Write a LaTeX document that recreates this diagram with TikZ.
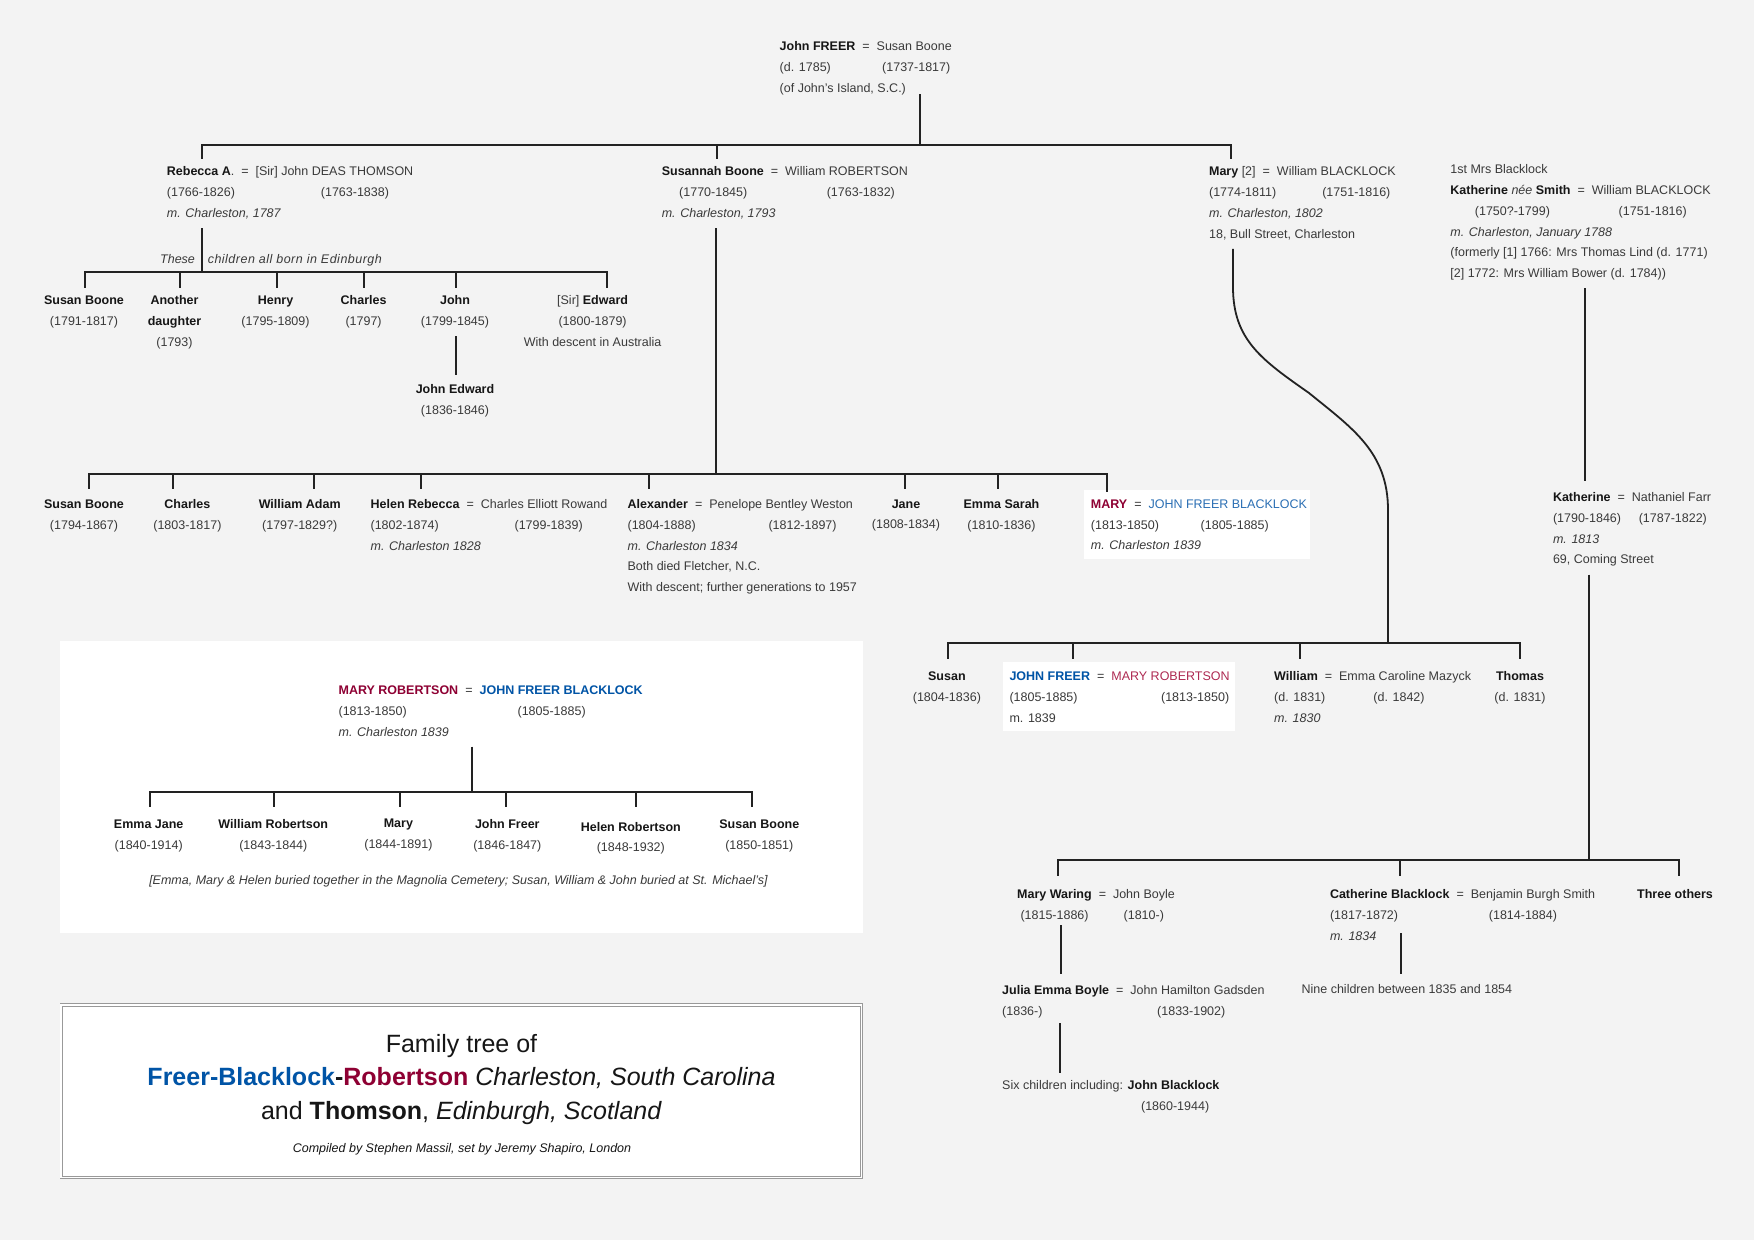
\documentclass[tikz,border=0pt]{standalone}
\usepackage{fontspec}
\setmainfont{Liberation Sans}
\definecolor{pagegray}{HTML}{F3F3F3}
\definecolor{inkgray}{HTML}{3A3A3A}
\definecolor{inkdark}{HTML}{161616}
\definecolor{linedark}{HTML}{222222}
\definecolor{framegray}{HTML}{999999}
\definecolor{freerblue}{HTML}{0054A6}
\definecolor{maryred}{HTML}{8E0033}
\definecolor{lightblue}{HTML}{2B6FB4}
\definecolor{lightred}{HTML}{AE2A52}
\newcommand{\nm}[1]{\textbf{\textcolor{inkdark}{#1}}}
\newcommand{\eq}{\hspace{7pt}=\hspace{7pt}}
\newcommand{\dates}[3]{\makebox[#1pt][l]{#2}#3}
\newcommand{\botstrut}{\rule[-3pt]{0pt}{3pt}}

\begin{document}
\begin{tikzpicture}[x=1pt,y=-1pt]
        % Styles
        \tikzset{
            person/.style={anchor=north west, align=left, inner xsep=0pt, inner ysep=7.5pt, text=inkgray,
                         font=\fontsize{12.5}{20.8}\selectfont,
                         execute at end node=\botstrut},
            child/.style={person, anchor=north, align=center},
            bus/.style={draw=linedark, line width=2.2pt, line cap=rect},
            drop/.style={draw=linedark, line width=1.8pt},
            paper/.style={fill=white},
            titlebox/.style={draw=framegray, fill=white, line width=0.9pt, double=white, double distance=1.5pt}
        }

        \useasboundingbox (0,0) rectangle (1754,1240);
        \fill[pagegray] (0,0) rectangle (1754,1240);

        % White panels
        \fill[paper] (59.5,641) rectangle (863,932.7);
        \fill[paper] (1084,490) rectangle (1310,558.7);
        \fill[paper] (1002.6,662.3) rectangle (1234.5,731);
        \draw[titlebox] (61.2,1005) rectangle (861.4,1177.7);

        % Freer generation
        \node[person] (john) at (779.5,34) {\nm{John FREER}\eq{}Susan Boone\\\dates{102.5}{(d. 1785)}{(1737-1817)}\\(of John's Island, S.C.)};
        \node[person] (rebecca) at (166.7,159) {\nm{Rebecca A}.\eq{}[Sir] John DEAS THOMSON\\\dates{154}{(1766-1826)}{(1763-1838)}\\\textit{m. Charleston, 1787}};
        \node[person] (susannah) at (661.6,159) {\nm{Susannah Boone}\eq{}William ROBERTSON\\\hspace*{17.4pt}\dates{147.6}{(1770-1845)}{(1763-1832)}\\\textit{m. Charleston, 1793}};
        \node[person] (maryBlack) at (1208.9,159) {\nm{Mary} [2]\eq{}William BLACKLOCK\\\dates{113.2}{(1774-1811)}{(1751-1816)}\\\textit{m. Charleston, 1802}\\18, Bull Street, Charleston};
        \node[person] (firstMrs) at (1450.2,157) {1st Mrs Blacklock\\\nm{Katherine} \textit{née} \nm{Smith}\eq{}William BLACKLOCK\\\hspace*{24.5pt}\dates{143.8}{(1750?-1799)}{(1751-1816)}\\\textit{m. Charleston, January 1788}\\(formerly [1] 1766: Mrs Thomas Lind (d. 1771)\\{}[2] 1772: Mrs William Bower (d. 1784))};

        % Connexions from John Freer
        \coordinate (freerL) at (202,145);
        \coordinate (freerM) at (717,145);
        \coordinate (freerR) at (1231,145);
        \coordinate (freerStem) at (920,145);
        \draw[bus] (freerL) -- (freerR);
        \draw[drop] ([yshift=9pt]john.south -| freerStem) -- (freerStem);
        \draw[drop] (freerL) -- (freerL |- rebecca.north);
        \draw[drop] (freerM) -- (freerM |- susannah.north);
        \draw[drop] (freerR) -- (freerR |- maryBlack.north);

        % Thomson children
        \node[person, font=\fontsize{12.5}{20.8}\selectfont\itshape] (theseL) at (160,246.7) {These};
        \node[person, font=\fontsize{12.5}{20.8}\selectfont\itshape\addfontfeature{LetterSpace=3.9}] (theseR) at (207.6,246.7) {children all born in Edinburgh};
        \node[child] (susanT) at (84,288) {\nm{Susan Boone}\\(1791-1817)};
        \node[child] (another) at (174.5,288) {\nm{Another}\\\nm{daughter}\\(1793)};
        \node[child] (henry) at (275.5,288) {\nm{Henry}\\(1795-1809)};
        \node[child] (charlesT) at (363.6,288) {\nm{Charles}\\(1797)};
        \node[child] (johnT) at (455,288) {\nm{John}\\(1799-1845)};
        \node[child] (edward) at (592.6,288) {[Sir] \nm{Edward}\\(1800-1879)\\With descent in Australia};
        \node[child] (johnEdward) at (455,377) {\nm{John Edward}\\(1836-1846)};

        \coordinate (thomL) at (85,272);
        \coordinate (thomB) at (180,272);
        \coordinate (thomC) at (277,272);
        \coordinate (thomD) at (364,272);
        \coordinate (thomE) at (456,272);
        \coordinate (thomR) at (607,272);
        \draw[bus] (thomL) -- (thomR);
        \draw[drop] (rebecca.south -| freerL) -- (freerL |- thomL);
        \draw[drop] (thomL) -- (thomL |- susanT.north);
        \draw[drop] (thomB) -- (thomB |- another.north);
        \draw[drop] (thomC) -- (thomC |- henry.north);
        \draw[drop] (thomD) -- (thomD |- charlesT.north);
        \draw[drop] (thomE) -- (thomE |- johnT.north);
        \draw[drop] (thomR) -- (thomR |- edward.north);
        \draw[drop] (johnT.south -| thomE) -- ([yshift=2pt]johnEdward.north -| thomE);

        % Robertson children
        \node[child] (susanR) at (84,491.8) {\nm{Susan Boone}\\(1794-1867)};
        \node[child] (charlesR) at (187.4,491.8) {\nm{Charles}\\(1803-1817)};
        \node[child] (adam) at (299.7,491.8) {\nm{William Adam}\\(1797-1829?)};
        \node[person] (helenR) at (370.4,491.8) {\nm{Helen Rebecca}\eq{}Charles Elliott Rowand\\\dates{144}{(1802-1874)}{(1799-1839)}\\\textit{m. Charleston 1828}};
        \node[person] (alexander) at (627.4,491.8) {\nm{Alexander}\eq{}Penelope Bentley Weston\\\dates{140.9}{(1804-1888)}{(1812-1897)}\\\textit{m. Charleston 1834}\\Both died Fletcher, N.C.\\With descent; further generations to 1957};
        \node[child] (jane) at (906,491.8) {\nm{Jane}\\(1808-1834)};
        \node[child] (emmaS) at (1001.5,491.8) {\nm{Emma Sarah}\\(1810-1836)};
        \node[person] (maryR) at (1090.7,491.8) {\textbf{\textcolor{maryred}{MARY}}\eq{}\textcolor{lightblue}{JOHN FREER BLACKLOCK}\\\dates{109.8}{(1813-1850)}{(1805-1885)}\\\textit{m. Charleston 1839}};

        \coordinate (robL) at (89,474);
        \coordinate (robB) at (173,474);
        \coordinate (robC) at (314,474);
        \coordinate (robD) at (421,474);
        \coordinate (robE) at (649,474);
        \coordinate (robF) at (905,474);
        \coordinate (robG) at (998,474);
        \coordinate (robR) at (1107,474);
        \coordinate (robStem) at (716,474);
        \draw[bus] (robL) -- (robR);
        \draw[drop] (susannah.south -| robStem) -- (robStem);
        \draw[drop] (robL) -- ([yshift=2.5pt]robL |- susanR.north);
        \draw[drop] (robB) -- ([yshift=2.5pt]robB |- charlesR.north);
        \draw[drop] (robC) -- ([yshift=2.5pt]robC |- adam.north);
        \draw[drop] (robD) -- ([yshift=2.5pt]robD |- helenR.north);
        \draw[drop] (robE) -- ([yshift=2.5pt]robE |- alexander.north);
        \draw[drop] (robF) -- ([yshift=2.5pt]robF |- jane.north);
        \draw[drop] (robG) -- ([yshift=2.5pt]robG |- emmaS.north);
        \draw[drop] (robR) -- (robR |- maryR.north);

        % Blacklock sons
        \node[child] (susanB) at (946.9,664) {\nm{Susan}\\(1804-1836)};
        \node[person] (johnF) at (1009.3,664) {\textbf{\textcolor{freerblue}{JOHN FREER}}\eq{}\textcolor{lightred}{MARY ROBERTSON}\\\dates{151.6}{(1805-1885)}{(1813-1850)}\\m. 1839};
        \node[person] (william) at (1274,664) {\nm{William}\eq{}Emma Caroline Mazyck\\\dates{99.2}{(d. 1831)}{(d. 1842)}\\\textit{m. 1830}};
        \node[child] (thomas) at (1520,664) {\nm{Thomas}\\(d. 1831)};

        \coordinate (sonsL) at (948,643);
        \coordinate (sonsB) at (1073,643);
        \coordinate (sonsC) at (1300,643);
        \coordinate (sonsR) at (1520,643);
        \coordinate (sonsStem) at (1388,643);
        \coordinate (bendA) at (1233,287);
        \coordinate (bendB) at (1309,393);
        \coordinate (bendC) at (1388,510);
        \draw[bus] (sonsL) -- (sonsR);
        \draw[drop] (maryBlack.south -| bendA) -- (bendA) .. controls (1233,340) and (1262,360) .. (bendB) .. controls (1352,428) and (1388,452) .. (bendC) -- (sonsStem);
        \draw[drop] (sonsL) -- ([yshift=5pt]sonsL |- susanB.north);
        \draw[drop] (sonsB) -- ([yshift=5pt]sonsB |- johnF.north);
        \draw[drop] (sonsC) -- ([yshift=5pt]sonsC |- william.north);
        \draw[drop] (sonsR) -- ([yshift=5pt]sonsR |- thomas.north);

        % Katherine Farr and descendants
        \node[person] (katherine) at (1552.8,484.7) {\nm{Katherine}\eq{}Nathaniel Farr\\\dates{85.8}{(1790-1846)}{(1787-1822)}\\\textit{m. 1813}\\69, Coming Street};
        \node[person] (maryW) at (1017,881.7) {\nm{Mary Waring}\eq{}John Boyle\\\hspace*{3.3pt}\dates{103.2}{(1815-1886)}{(1810-)}};
        \node[person] (catherine) at (1329.8,881.7) {\nm{Catherine Blacklock}\eq{}Benjamin Burgh Smith\\\dates{158.9}{(1817-1872)}{(1814-1884)}\\\textit{m. 1834}};
        \node[person] (three) at (1637,881.7) {\nm{Three others}};
        \node[person] (julia) at (1002,978) {\nm{Julia Emma Boyle}\eq{}John Hamilton Gadsden\\\dates{155}{(1836-)}{(1833-1902)}};
        \node[person] (nine) at (1301.4,977) {Nine children between 1835 and 1854};
        \node[person] (six) at (1002,1073) {Six children including: \nm{John Blacklock}\\\hspace*{138.9pt}(1860-1944)};

        \coordinate (farrL) at (1058,860);
        \coordinate (farrM) at (1400,860);
        \coordinate (farrR) at (1679,860);
        \coordinate (farrStem) at (1589,860);
        \coordinate (waringStem) at (1061,925);
        \coordinate (juliaStem) at (1060,1023.3);
        \coordinate (smithStem) at (1401,933);
        \coordinate (blackStem) at (1585,287.3);
        \draw[bus] (farrL) -- (farrR);
        \draw[drop] (firstMrs.south -| blackStem) -- ([yshift=4pt]katherine.north -| blackStem);
        \draw[drop] (katherine.south -| farrStem) -- (farrStem);
        \draw[drop] (farrL) -- ([yshift=6pt]farrL |- maryW.north);
        \draw[drop] (farrM) -- ([yshift=6pt]farrM |- catherine.north);
        \draw[drop] (farrR) -- ([yshift=6pt]farrR |- three.north);
        \draw[drop] (waringStem) -- ([yshift=4pt]waringStem |- julia.north);
        \draw[drop] (juliaStem) -- (juliaStem |- six.north);
        \draw[drop] (smithStem) -- ([yshift=3pt]smithStem |- nine.north);

        % Mary Robertson panel
        \node[person] (maryP) at (338.4,678) {\textbf{\textcolor{maryred}{MARY ROBERTSON}}\eq{}\textbf{\textcolor{freerblue}{JOHN FREER BLACKLOCK}}\\\dates{179}{(1813-1850)}{(1805-1885)}\\\textit{m. Charleston 1839}};
        \node[child] (emmaP) at (148.7,812) {\nm{Emma Jane}\\(1840-1914)};
        \node[child] (williamP) at (273.3,812) {\nm{William Robertson}\\(1843-1844)};
        \node[child] (maryC) at (398.4,811.3) {\nm{Mary}\\(1844-1891)};
        \node[child] (johnP) at (507.3,812) {\nm{John Freer}\\(1846-1847)};
        \node[child] (helenP) at (630.8,814.3) {\nm{Helen Robertson}\\(1848-1932)};
        \node[child] (susanP) at (759.3,812) {\nm{Susan Boone}\\(1850-1851)};
        \node[child, font=\fontsize{12.5}{20.8}\selectfont\itshape] (buried) at (458.5,868) {[Emma, Mary \& Helen buried together in the Magnolia Cemetery; Susan, William \& John buried at St. Michael's]};

        \coordinate (panelL) at (150,792);
        \coordinate (panelB) at (274,792);
        \coordinate (panelC) at (400,792);
        \coordinate (panelD) at (506,792);
        \coordinate (panelE) at (636,792);
        \coordinate (panelR) at (752,792);
        \coordinate (panelStem) at (472,792);
        \draw[bus] (panelL) -- (panelR);
        \draw[drop] (maryP.south -| panelStem) -- (panelStem);
        \draw[drop] (panelL) -- ([yshift=4.7pt]panelL |- emmaP.north);
        \draw[drop] (panelB) -- ([yshift=4.7pt]panelB |- williamP.north);
        \draw[drop] (panelC) -- ([yshift=4pt]panelC |- maryC.north);
        \draw[drop] (panelD) -- ([yshift=4.7pt]panelD |- johnP.north);
        \draw[drop] (panelE) -- ([yshift=7pt]panelE |- helenP.north);
        \draw[drop] (panelR) -- ([yshift=4.7pt]panelR |- susanP.north);

        % Title
        \node[align=center, inner sep=0pt, text=inkdark, font=\fontsize{25}{33.3}\selectfont] (title) at (461.5,1079.5) {Family tree of\\\textbf{\textcolor{freerblue}{Freer-Blacklock}-\textcolor{maryred}{Robertson}} \textit{Charleston, South Carolina}\\and \textbf{Thomson}, \textit{Edinburgh, Scotland}};
        \node[inner sep=0pt, text=inkdark, font=\fontsize{12.5}{15}\selectfont\itshape] (credit) at (462,1149) {Compiled by Stephen Massil, set by Jeremy Shapiro, London};
    \end{tikzpicture}
\end{document}
